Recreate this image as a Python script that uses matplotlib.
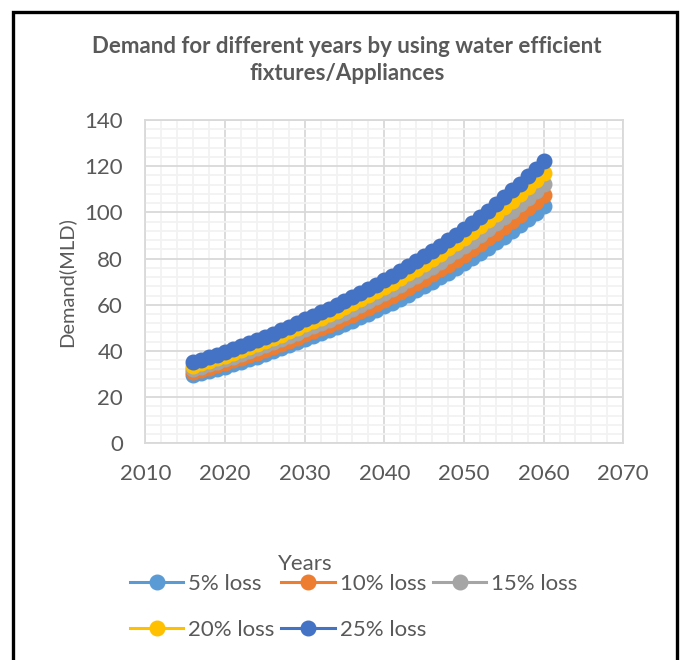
import matplotlib.pyplot as plt
from matplotlib.patches import Rectangle
from matplotlib.ticker import MultipleLocator

plt.rcParams['font.family'] = ['Lato', 'DejaVu Sans']

years = list(range(2016, 2061))

loss_5 = [29.4, 30.3, 31.2, 32.2, 33.2, 34.3, 35.3, 36.4, 37.5, 38.7,
          39.9, 41.1, 42.4, 43.7, 45.1, 46.3, 47.6, 48.9, 50.3, 51.7,
          53.1, 54.6, 56.1, 57.7, 59.3, 60.9, 62.6, 64.4, 66.2, 68.0,
          69.9, 71.8, 73.8, 75.9, 78.0, 80.2, 82.4, 84.7, 87.0, 89.4,
          91.9, 94.5, 97.1, 99.8, 102.6]
loss_10 = [30.8, 31.8, 32.7, 33.8, 34.8, 35.9, 37.0, 38.1, 39.3, 40.5,
           41.8, 43.1, 44.4, 45.8, 47.2, 48.5, 49.9, 51.3, 52.7, 54.2,
           55.7, 57.2, 58.8, 60.4, 62.1, 63.8, 65.6, 67.4, 69.3, 71.2,
           73.2, 75.3, 77.3, 79.5, 81.7, 84.0, 86.3, 88.7, 91.2, 93.7,
           96.3, 99.0, 101.7, 104.6, 107.5]
loss_15 = [32.2, 33.2, 34.2, 35.3, 36.4, 37.5, 38.7, 39.9, 41.1, 42.4,
           43.7, 45.1, 46.4, 47.9, 49.4, 50.7, 52.2, 53.6, 55.1, 56.6,
           58.2, 59.8, 61.5, 63.2, 64.9, 66.7, 68.6, 70.5, 72.5, 74.5,
           76.5, 78.7, 80.9, 83.1, 85.4, 87.8, 90.2, 92.7, 95.3, 98.0,
           100.7, 103.5, 106.4, 109.3, 112.4]
loss_20 = [33.6, 34.6, 35.7, 36.8, 38.0, 39.1, 40.4, 41.6, 42.9, 44.2,
           45.6, 47.0, 48.5, 50.0, 51.5, 52.9, 54.4, 55.9, 57.5, 59.1,
           60.7, 62.4, 64.1, 65.9, 67.8, 69.6, 71.6, 73.6, 75.6, 77.7,
           79.9, 82.1, 84.4, 86.7, 89.1, 91.6, 94.2, 96.8, 99.5, 102.2,
           105.1, 108.0, 111.0, 114.1, 117.2]
loss_25 = [35.0, 36.1, 37.2, 38.4, 39.6, 40.8, 42.0, 43.3, 44.7, 46.1,
           47.5, 49.0, 50.5, 52.1, 53.7, 55.2, 56.7, 58.3, 59.9, 61.5,
           63.3, 65.0, 66.8, 68.7, 70.6, 72.6, 74.6, 76.6, 78.8, 81.0,
           83.2, 85.5, 87.9, 90.3, 92.9, 95.4, 98.1, 100.8, 103.6, 106.5,
           109.5, 112.5, 115.6, 118.8, 122.1]

labels = ['5% loss', '10% loss', '15% loss', '20% loss', '25% loss']
colors = ['#5B9BD5', '#ED7D31', '#A5A5A5', '#FFC000', '#4472C4']
series = [loss_5, loss_10, loss_15, loss_20, loss_25]

W, H = 681, 660
txt = '#595959'
fs = 16

fig = plt.figure(figsize=(W / 100, H / 100), dpi=100)
ax = fig.add_axes([145.3 / W, 1 - 443.3 / H, 478 / W, 323.3 / H])

lines = []
for vals, lab, col in zip(series, labels, colors):
    ln, = ax.plot(years, vals, color=col, lw=2.2, marker='o', ms=10.5,
                  mec=col, mfc=col, label=lab, zorder=3)
    lines.append(ln)

ax.set_xlim(2010, 2070)
ax.set_ylim(0, 140)
ax.xaxis.set_major_locator(MultipleLocator(10))
ax.xaxis.set_minor_locator(MultipleLocator(2))
ax.yaxis.set_major_locator(MultipleLocator(20))
ax.yaxis.set_minor_locator(MultipleLocator(4))
ax.grid(which='major', color='#D9D9D9', lw=1.3, zorder=1)
ax.grid(which='minor', color='#F2F2F2', lw=1.3, zorder=0)
ax.set_axisbelow(True)
for s in ax.spines.values():
    s.set_color('#D9D9D9')
    s.set_linewidth(1.3)
ax.tick_params(which='both', length=0, labelsize=fs, labelcolor=txt)
ax.tick_params(axis='x', pad=15)
ax.tick_params(axis='y', pad=16)

ax.set_ylabel('Demand(MLD)', fontsize=14.5, color=txt)
ax.yaxis.set_label_coords((75 - 145.3) / 478, 0.5)
ax.set_xlabel('Years', fontsize=fs, color=txt)
ax.xaxis.set_label_coords((305 - 145.3) / 478, (443.3 - 554) / 323.3)

fig.text(347 / W, 1 - 60 / H,
         'Demand for different years by using water efficient\nfixtures/Appliances',
         ha='center', va='center', fontsize=16, fontweight='bold', color=txt,
         linespacing=1.38)

# legend filled row by row: 3 entries on the first row, 2 on the second
order = [0, 3, 1, 4, 2]
fig.legend([lines[i] for i in order], [labels[i] for i in order],
           ncol=3, loc='upper left', bbox_to_anchor=(130 / W, 1 - 574 / H),
           frameon=False, fontsize=fs, handlelength=2.4, handletextpad=0.23,
           columnspacing=0.3, labelspacing=1.15, borderpad=0, borderaxespad=0,
           labelcolor=txt)

fig.patches.append(Rectangle((13 / W, -0.05), 664 / W, (648 / H) + 0.05,
                             transform=fig.transFigure, fill=False,
                             edgecolor='black', lw=2.4))

fig.savefig('out.png', dpi=100)
